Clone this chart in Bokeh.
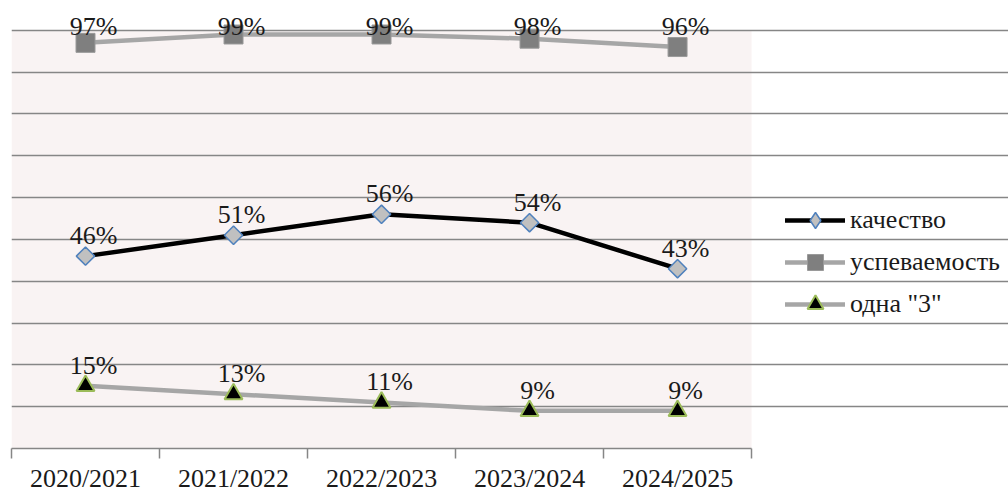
import numpy as np
from bokeh.plotting import figure
from bokeh.models import Range1d, FixedTicker, ColumnDataSource, LabelSet, Legend, LegendItem
from bokeh.core.properties import value
from bokeh.embed import file_html
from bokeh.resources import INLINE

# ---- data ----
years = ["2020/2021", "2021/2022", "2022/2023", "2023/2024", "2024/2025"]
kachestvo = [46, 51, 56, 54, 43]
uspevaemost = [97, 99, 99, 98, 96]
odna3 = [15, 13, 11, 9, 9]
series_names = ["качество", "успеваемость", 'одна "3"']
y_grid = list(range(0, 101, 10))

xs = [i + 0.5 for i in range(len(years))]
n = len(years)
ymax = max(y_grid)
FONT = "Liberation Serif"

p = figure(width=1008, height=495,
           x_range=Range1d(0, n + 1.736), y_range=Range1d(0, ymax + 7.13),
           output_backend="svg", toolbar_location=None,
           min_border_left=11, min_border_right=0,
           min_border_top=0, min_border_bottom=40)
p.background_fill_color = "white"
p.border_fill_color = "white"
p.outline_line_color = None

# plot-area background
p.quad(left=0, right=n, bottom=0, top=ymax, fill_color="#f9f3f3", line_color=None, level="image")

# axes / grid
p.yaxis.visible = False
p.xgrid.visible = False
p.ygrid.ticker = FixedTicker(ticks=y_grid)
p.ygrid.bounds = (0, n)
p.ygrid.grid_line_color = "#868686"
p.ygrid.grid_line_width = 1.5

ax = p.xaxis[0]
ax.bounds = (0, n)
ax.ticker = FixedTicker(ticks=xs, minor_ticks=list(range(n + 1)))
ax.major_label_overrides = {x: y for x, y in zip(xs, years)}
ax.major_tick_out = 0
ax.major_tick_in = 0
ax.minor_tick_out = 10
ax.minor_tick_in = 0
ax.minor_tick_line_color = "#868686"
ax.minor_tick_line_width = 1.5
ax.axis_line_color = "#868686"
ax.axis_line_width = 1.5
ax.major_label_text_font = FONT
ax.major_label_text_font_size = "26px"
ax.major_label_text_color = "#1a1a1a"
ax.major_label_standoff = 5

styles = [
    dict(vals=kachestvo, line_color="black", marker="square", angle=np.pi / 4, size=13,
         fill="#c0c0c0", outline="#4f81bd", ow=1.5, leg_marker="diamond", top=False),
    dict(vals=uspevaemost, line_color="#a6a6a6", marker="square", angle=0, size=19,
         fill="#7f7f7f", outline="#9a9a9a", ow=1, leg_marker=None, top=True),
    dict(vals=odna3, line_color="#a6a6a6", marker="triangle", angle=0, size=18,
         fill="black", outline="#9bbb59", ow=2, leg_marker=None, top=False),
]

items = []
for name, st in zip(series_names, styles):
    vals = st["vals"]
    src = ColumnDataSource(dict(x=xs, y=vals, t=[f"{v}%" for v in vals],
                                ly=[ymax] * n if st["top"] else vals))
    ln = p.line("x", "y", source=src, line_color=st["line_color"], line_width=4.5,
                line_cap="round", line_join="round")
    sc = p.scatter("x", "y", source=src, marker=st["marker"], angle=st["angle"], size=st["size"],
                   fill_color=st["fill"], line_color=st["outline"], line_width=st["ow"])
    if st["leg_marker"]:
        # legend-only proxy (hidden in the plot) so the legend shows a diamond
        leg_sc = p.scatter("x", "y", source=src, marker=st["leg_marker"], fill_color=st["fill"],
                           line_color=st["outline"], line_width=st["ow"], visible=False)
        items.append(LegendItem(label=name, renderers=[ln, leg_sc]))
    else:
        items.append(LegendItem(label=name, renderers=[ln, sc]))
    lab = LabelSet(x="x", y="ly", text="t", source=src, x_offset=8,
                   y_offset=-5 if st["top"] else 12,
                   text_align="center", text_baseline="alphabetic",
                   text_font=value(FONT), text_font_size="26px", text_color="#1a1a1a")
    p.add_layout(lab)

legend = Legend(items=items, location=(774, 124))
legend.background_fill_alpha = 0
legend.border_line_color = None
legend.inactive_fill_alpha = 0
legend.padding = 0
legend.margin = 0
legend.spacing = 2
legend.glyph_width = 60
legend.glyph_height = 40
legend.label_standoff = 5
legend.label_text_font = FONT
legend.label_text_font_size = "26px"
legend.label_text_color = "#1a1a1a"
p.add_layout(legend)

open("out.html", "w").write(file_html(p, INLINE))
